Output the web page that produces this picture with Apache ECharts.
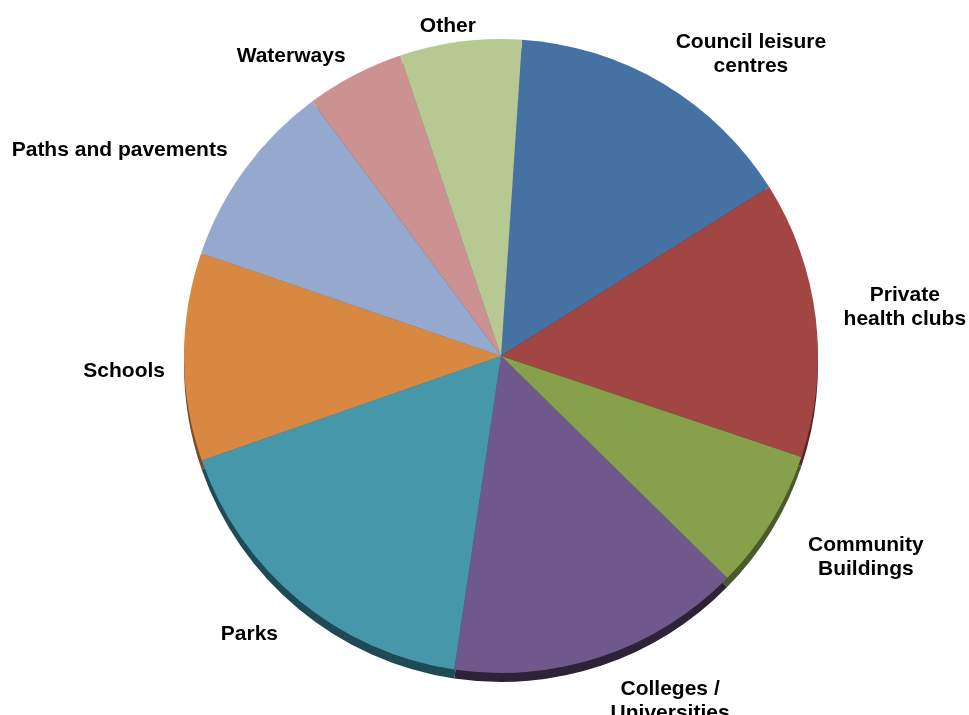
<!DOCTYPE html>
<html><head><meta charset="utf-8">
<script src="https://cdn.jsdelivr.net/npm/echarts@6/dist/echarts.min.js"></script>
<style>html,body{margin:0;padding:0;background:#fff}#c{width:969px;height:715px}</style>
</head><body><div id="c"></div>
<script>
const categories = ['Council leisure\ncentres','Private\nhealth clubs','Community\nBuildings','Colleges /\nUniversities','Parks','Schools','Paths and pavements','Waterways','Other'];
const values = [15, 14.1, 7.2, 15, 17.3, 10.6, 9.6, 5, 6.2];
const colors = ['#4671A3','#A24644','#86A04C','#6F598C','#4697AA','#D98842','#94A9CD','#CC9292','#B7C993'];
const shadeColors = ['#253D5A','#5A2524','#4A5A28','#2E2238','#1E4A55','#7A4A22','#52607A','#735050','#66724F'];
// label nudges (style only), per slice index
const labelNudge = [[-7,-5],[-5,-8],[8,21],[-5,18],[2,12],[14,14],[10,-2],[9,6],[24,12]];

const chart = echarts.init(document.getElementById('c'));
const data = categories.map((n,i)=>({name:n, value:values[i], itemStyle:{color:colors[i]}}));
const shadeData = categories.map((n,i)=>({name:n, value:values[i], itemStyle:{color:shadeColors[i]}}));
chart.setOption({
  animation:false,
  series:[
    {type:'pie', silent:true, z:1, center:[501,365], radius:317, startAngle:86.2, clockwise:true,
     data:shadeData, label:{show:false}, labelLine:{show:false}},
    {type:'pie', z:2, center:[501,356], radius:317, startAngle:86.2, clockwise:true,
     data:data, edgeDistance:0, bleedMargin:0,
     label:{show:true, position:'outside', color:'#000', fontFamily:'Liberation Sans, Arial, sans-serif',
            fontWeight:'bold', fontSize:21, lineHeight:24, overflow:'none', edgeDistance:0, bleedMargin:0},
     labelLine:{show:false, length:28, length2:0},
     labelLayout:function(p){const r=p.labelRect;const n=labelNudge[p.dataIndex];
       return {x:r.x+r.width/2+n[0], y:r.y+r.height/2+n[1], align:'center', verticalAlign:'middle'};}
    }
  ]
});
</script></body></html>
